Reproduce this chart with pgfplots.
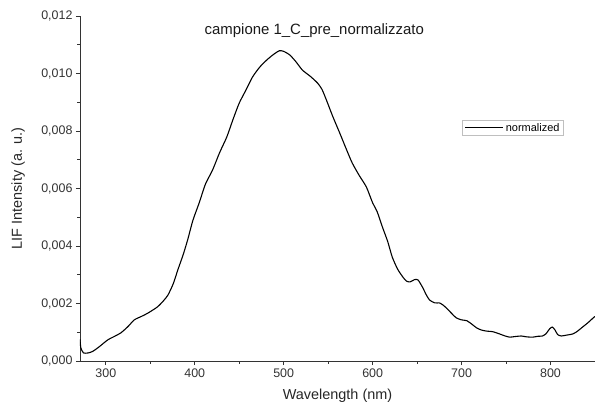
\documentclass[border=0pt]{standalone}
\usepackage{pgfplots}
\pgfplotsset{compat=1.18}
\usepackage{fontspec}
\setmainfont{Liberation Sans}
\begin{document}
\begin{tikzpicture}
\begin{axis}[
  scale only axis,
  width=515bp, height=345bp,
  xmin=271, xmax=850, ymin=0, ymax=0.012,
  axis x line*=bottom, axis y line*=left,
  axis line style={-, line width=0.8pt, black!80},
  xtick={300,400,500,600,700,800},
  ytick={0,0.002,0.004,0.006,0.008,0.010,0.012},
  minor x tick num=1, minor y tick num=1,
  tick align=outside,
  major tick length=4bp, minor tick length=2.5bp,
  tick style={line width=0.8pt, black!80},
  scaled y ticks=false,
  yticklabel style={/pgf/number format/.cd, fixed, fixed zerofill, precision=3, use comma, assume math mode=true},
  xticklabel style={/pgf/number format/assume math mode=true},
  ticklabel style={font=\fontsize{12.5}{14}\selectfont, text=black!80},
  xlabel={Wavelength (nm)},
  ylabel={LIF Intensity (a. u.)},
  every axis x label/.style={at={(axis description cs:0.5,-0.102)}, anchor=center, font=\fontsize{14.5}{16}\selectfont, text=black!85},
  every axis y label/.style={at={(axis description cs:-0.120,0.5)}, anchor=center, rotate=90, font=\fontsize{14.5}{16}\selectfont, text=black!85},
  legend style={at={(rel axis cs:0.742,0.699)}, anchor=north west, draw=black!25, line width=0.8pt,
    font=\fontsize{11}{12}\selectfont, inner xsep=2pt, inner ysep=1pt, row sep=0pt},
  legend cell align=left,
  legend image code/.code={\path (0cm,0cm) -- (0.4cm,0cm); \draw[#1] (0.4cm,0cm) -- (1.35cm,0cm);},
]
\addplot[black, line width=1.1pt, smooth, tension=0.4] coordinates {
(271,0.00075) (272,0.00045) (275,0.00028) (280,0.00028) (285,0.00033) (292,0.00048) (302,0.00073)
(310,0.00086) (317,0.00098) (325,0.00120) (332,0.00143) (340,0.00155) (347,0.00166)
(358,0.00188) (365,0.00210) (370,0.00230) (376,0.00270) (381,0.00317) (387,0.00370) (392,0.00421)
(398,0.00490) (405,0.00550) (412,0.00615) (420,0.00664) (428,0.00725) (436,0.00779) (443,0.00840)
(450,0.00897) (458,0.00945) (465,0.00988) (473,0.01022) (481,0.01047) (488,0.01065) (495,0.01079)
(500,0.01077) (507,0.01064) (514,0.01040) (521,0.01012) (530,0.00990) (538,0.00967) (543,0.00945)
(548,0.00908) (555,0.00852) (563,0.00793) (570,0.00740) (577,0.00689) (585,0.00645) (593,0.00605)
(600,0.00550) (605,0.00520) (611,0.00466) (617,0.00415) (622,0.00362) (628,0.00320) (634,0.00292)
(638,0.00278) (642,0.00275) (647,0.00283) (651,0.00282) (656,0.00257) (660,0.00232) (664,0.00212)
(670,0.00202) (675,0.00202) (679,0.00195) (683,0.00184) (689,0.00165) (694,0.00150) (700,0.00143)
(706,0.00140) (712,0.00127) (717,0.00115) (722,0.00108) (728,0.00104) (735,0.00102) (742,0.00095)
(748,0.00088) (754,0.00083) (760,0.00085) (767,0.00087) (773,0.00084) (780,0.00083) (786,0.00086)
(791,0.00087) (795,0.00095) (799,0.00112) (802,0.00118) (805,0.00108) (808,0.00092) (812,0.00087)
(818,0.00090) (825,0.00094) (830,0.00103) (836,0.00118) (842,0.00133) (848,0.00150) (850,0.00155)
};
\addlegendentry{normalized}
\node[font=\fontsize{15}{17}\selectfont, text=black!90] at (rel axis cs:0.455,0.959) {campione 1\_C\_pre\_normalizzato};
\end{axis}
\pgfresetboundingbox
\path[use as bounding box] (current axis.south west) ++(-80bp,-50bp) rectangle ([yshift=16bp]current axis.north east);
\end{tikzpicture}
\end{document}
